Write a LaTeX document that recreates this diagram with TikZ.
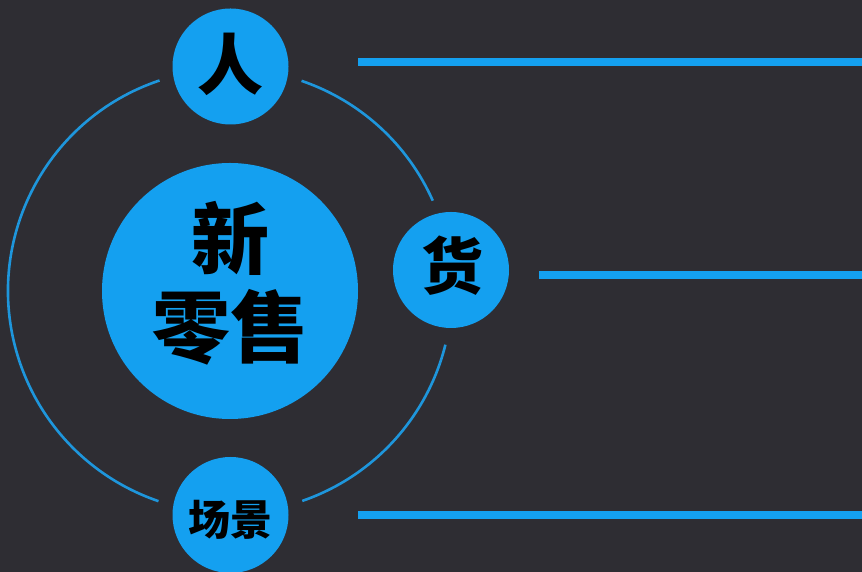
\documentclass[tikz,border=0pt]{standalone}
\usepackage{fontspec}
\newfontfamily\cjk{Noto Sans CJK SC}
\definecolor{bg}{HTML}{2E2D33}
\definecolor{blue}{HTML}{14A0F0}
\definecolor{orbitc}{HTML}{1E96DC}
\begin{document}
\begin{tikzpicture}[x=1pt,y=1pt,
  disc/.style={circle,fill=blue,inner sep=0pt},
  txt/.style={text=black,inner sep=0pt,font=\cjk\bfseries},
  orbit/.style={draw=orbitc,line width=2.6pt},
  bar/.style={draw=blue,line width=8pt}]
\fill[bg] (0,0) rectangle (862,572);
\useasboundingbox (0,0) rectangle (862,572);
\coordinate (c) at (230,281);
% orbit arcs
\draw[orbit] (c) ++(108.5:222) arc[start angle=108.5,end angle=251.2,radius=222];
\draw[orbit] (c) ++(24:222) arc[start angle=24,end angle=71.2,radius=222];
\draw[orbit] (c) ++(-71:222) arc[start angle=-71,end angle=-14,radius=222];
% nodes
\node[disc,minimum size=256pt] (big) at (230,281) {};
\node[txt,font=\cjk\bfseries\fontsize{78}{90}\selectfont] (t1) at (230,334) {新};
\node[txt,font=\cjk\bfseries\fontsize{78}{90}\selectfont] (t2) at (230,245) {零售};
\node[disc,minimum size=116pt] (ren) at (230.5,505.5) {};
\node[txt,font=\cjk\bfseries\fontsize{66}{70}\selectfont] at (230.5,508) {人};
\node[disc,minimum size=116pt] (huo) at (451,302) {};
\node[txt,font=\cjk\bfseries\fontsize{62}{66}\selectfont] at (452,306) {货};
\node[disc,minimum size=116pt] (cj) at (230.5,57) {};
\node[txt,font=\cjk\bfseries\fontsize{42}{46}\selectfont] at (230.5,52) {场景};
% bars
\coordinate (a1) at (358,510);
\coordinate (b1) at (862,510);
\coordinate (a2) at (539,297);
\coordinate (b2) at (862,297);
\coordinate (a3) at (358,57);
\coordinate (b3) at (862,57);
\draw[bar] (a1) -- (b1);
\draw[bar] (a2) -- (b2);
\draw[bar] (a3) -- (b3);
\end{tikzpicture}
\end{document}
